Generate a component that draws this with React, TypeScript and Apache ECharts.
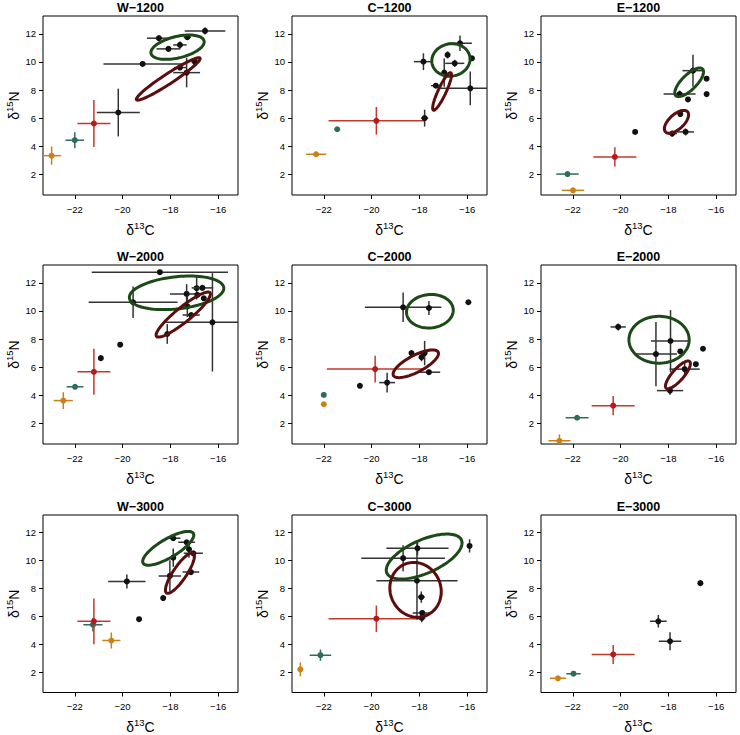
import React, { useEffect, useRef } from "react";
import * as echarts from "echarts";

// Panel titles
const TITLES = ["W\u22121200", "C\u22121200", "E\u22121200", "W\u22122000", "C\u22122000", "E\u22122000", "W\u22123000", "C\u22123000", "E\u22123000"];

// Tick labels
const X_TICKS = [-22, -20, -18, -16];
const Y_TICKS = [2, 4, 6, 8, 10, 12];
const X_MIN = -23.33, X_MAX = -15.17, Y_MIN = 0.53, Y_MAX = 13.27;

// Points: [d13C, d15N, xErr, yErr, group]  group: 0 orange, 1 teal, 2 red, 3 black
const W1200 = [
  [-22.97, 3.33, 0.39, 0.65, 0], [-22.0, 4.43, 0.39, 0.57, 1], [-21.2, 5.62, 0.69, 1.67, 2],
  [-20.18, 6.4, 0.9, 1.7, 3], [-19.16, 9.86, 1.64, 0, 3], [-18.48, 11.69, 0.5, 0.2, 3],
  [-18.08, 10.93, 0.5, 0.2, 3], [-17.6, 11.21, 0.28, 0.25, 3], [-17.29, 11.76, 0.15, 0.2, 3],
  [-16.55, 12.21, 0.85, 0.25, 3], [-17.6, 9.6, 0.25, 0.1, 3], [-17.32, 9.24, 0.56, 1.05, 3],
  [-16.97, 10.0, 0.15, 0.2, 3],
];
const C1200 = [
  [-22.32, 3.43, 0.42, 0.2, 0], [-21.44, 5.21, 0, 0, 1], [-19.8, 5.81, 2.0, 0.98, 2],
  [-17.78, 6.0, 0.15, 0.6, 3], [-17.31, 8.31, 0.2, 0.1, 3], [-16.96, 9.24, 0.1, 1.0, 3],
  [-17.83, 10.02, 0.4, 0.6, 3], [-16.82, 10.5, 0.1, 0.25, 3], [-16.52, 9.9, 0.4, 0.25, 3],
  [-16.3, 11.33, 0.5, 0.55, 3], [-15.8, 10.26, 0, 0, 3], [-15.87, 8.12, 1.3, 1.2, 3],
];
const E1200 = [
  [-21.99, 0.86, 0.47, 0.1, 0], [-22.22, 2.02, 0.47, 0, 1], [-20.24, 3.24, 0.9, 0.68, 2],
  [-19.39, 5.02, 0, 0, 3], [-17.84, 4.9, 0.2, 0.2, 3], [-17.28, 5.02, 0.35, 0.25, 3],
  [-17.5, 6.29, 0.1, 0.15, 3], [-17.53, 7.71, 0.67, 0.25, 3], [-17.18, 7.33, 0, 0, 3],
  [-16.97, 9.38, 0.44, 1.14, 3], [-16.4, 8.81, 0, 0, 3], [-16.4, 7.71, 0, 0, 3],
];
const W2000 = [
  [-22.48, 3.62, 0.4, 0.6, 0], [-21.99, 4.6, 0.35, 0, 1], [-21.2, 5.67, 0.69, 1.64, 2],
  [-20.91, 6.64, 0, 0, 3], [-20.1, 7.6, 0, 0, 3], [-18.13, 8.36, 0.1, 0.7, 3],
  [-19.56, 10.62, 1.86, 1.12, 3], [-18.44, 12.76, 2.85, 0, 3], [-17.32, 11.21, 0.7, 0.7, 3],
  [-17.29, 10.33, 0.1, 0.77, 3], [-17.13, 9.71, 0.36, 0.1, 3], [-16.9, 11.62, 0.1, 0.8, 3],
  [-16.66, 11.64, 0.45, 0.1, 3], [-16.87, 11.14, 0, 0, 3], [-16.6, 10.9, 0, 0, 3],
  [-16.24, 9.19, 2.06, 3.5, 3],
];
const C2000 = [
  [-22.0, 3.36, 0, 0, 0], [-22.0, 4.02, 0, 0, 1], [-19.85, 5.86, 2.02, 0.95, 2],
  [-20.49, 4.67, 0, 0, 3], [-19.35, 4.9, 0.33, 0.7, 3], [-18.33, 7.0, 0, 0, 3],
  [-17.91, 6.71, 0.1, 0.3, 3], [-17.78, 7.0, 0.1, 0.87, 3], [-17.6, 5.64, 0.47, 0.1, 3],
  [-18.68, 10.26, 1.6, 1.05, 3], [-17.6, 10.21, 0.1, 0.5, 3], [-15.95, 10.62, 0, 0, 3],
];
const E2000 = [
  [-22.56, 0.76, 0.46, 0.45, 0], [-21.82, 2.4, 0.48, 0, 1], [-20.31, 3.26, 0.9, 0.68, 2],
  [-20.1, 8.86, 0.32, 0.25, 3], [-18.52, 6.93, 0.88, 2.29, 3], [-17.91, 7.86, 0.82, 2.2, 3],
  [-17.5, 7.12, 0.1, 0.1, 3], [-17.32, 5.86, 0.63, 0.48, 3], [-16.85, 6.21, 0, 0, 3],
  [-16.55, 7.31, 0, 0, 3], [-17.93, 4.33, 0.55, 0.3, 3],
];
const W3000 = [
  [-21.24, 5.4, 0.4, 0.5, 1], [-21.2, 5.64, 0.69, 1.64, 2], [-20.47, 4.26, 0.38, 0.57, 0],
  [-19.31, 5.79, 0, 0, 3], [-19.82, 8.5, 0.78, 0.5, 3], [-18.3, 7.31, 0.1, 0.2, 3],
  [-18.02, 8.9, 0.47, 1.13, 3], [-17.88, 10.21, 0.1, 0.65, 3], [-17.88, 11.6, 0.3, 0.1, 3],
  [-17.32, 11.31, 0.35, 0.1, 3], [-17.22, 10.81, 0.1, 0.6, 3], [-17.04, 10.52, 0.4, 0.1, 3],
  [-17.14, 9.17, 0.35, 0.1, 3],
];
const C3000 = [
  [-22.98, 2.19, 0.05, 0.5, 0], [-22.14, 3.21, 0.45, 0.4, 1], [-19.8, 5.83, 2.0, 0.95, 2],
  [-17.9, 5.88, 0.15, 0.3, 3], [-17.88, 6.24, 0.4, 0.1, 3], [-17.92, 7.38, 0.15, 0.4, 3],
  [-18.1, 8.55, 1.7, 2.8, 3], [-18.68, 10.17, 1.75, 0.93, 3], [-18.08, 10.88, 1.3, 0.5, 3],
  [-15.9, 11.05, 0, 0.48, 3],
];
const E3000 = [
  [-22.62, 1.55, 0.34, 0, 0], [-21.97, 1.88, 0.3, 0, 1], [-20.31, 3.26, 0.9, 0.68, 2],
  [-18.42, 5.64, 0.35, 0.45, 3], [-17.93, 4.21, 0.47, 0.64, 3], [-16.66, 8.38, 0, 0, 3],
];

// Ellipses: [cx, cy, ux, uy, vx, vy, type] (type 0 green, 1 dark red); conjugate semi-axis vectors
const W1200_ELL = [[-17.7, 11.05, 1.11, 0.45, 0.105, -0.74, 0], [-18.09, 8.79, 1.33, 1.48, 0.115, -0.3, 1]];
const C1200_ELL = [[-16.68, 10.14, 0.795, 0.19, 0.084, -1.14, 0], [-17.05, 7.9, 0.363, 1.33, 0.152, -0.12, 1]];
const E1200_ELL = [[-17.13, 8.55, 0.56, 0.95, 0.22, -0.37, 0], [-17.66, 5.74, 0.463, 0.714, 0.206, -0.388, 1]];
const W2000_ELL = [[-17.74, 11.29, 1.975, 0.357, 0.056, -1.14, 0], [-17.46, 9.74, 1.12, 1.55, 0.195, -0.407, 1]];
const C2000_ELL = [[-17.56, 9.98, 0.978, 0.07, 0, -1.19, 0], [-18.15, 6.24, 0.936, 0.833, 0.162, -0.528, 1]];
const E2000_ELL = [[-18.39, 7.95, 1.26, 0, 0, -1.67, 0], [-17.6, 5.45, 0.49, 0.95, 0.18, -0.27, 1]];
const W3000_ELL = [[-18.09, 10.88, 1.05, 1.07, 0.2, -0.57, 0], [-17.6, 9.1, 0.56, 1.43, 0.233, -0.264, 1]];
const C3000_ELL = [[-17.8, 10.29, 1.56, 1.19, 0.285, -1.09, 0], [-18.16, 7.9, -0.42, 1.86, 0.99, 0.64, 1]];
const E3000_ELL: number[][] = [];

const POINTS = [W1200, C1200, E1200, W2000, C2000, E2000, W3000, C3000, E3000];
const ELLIPSES = [W1200_ELL, C1200_ELL, E1200_ELL, W2000_ELL, C2000_ELL, E2000_ELL, W3000_ELL, C3000_ELL, E3000_ELL];

const DOT_COLORS = ["#c98118", "#2e6b5c", "#b8191b", "#111111"];
const BAR_COLORS = ["#c98118", "#2e6b5c", "#c0392b", "#333333"];
const ELL_COLORS = ["#1b4a17", "#5c0d0d"];

const COL_LEFT = [43, 292, 541];
const ROW_TOP = [16, 265, 515];
const GW = 195, GH = 179;
const FONT = "'Liberation Sans', Arial, sans-serif";

const fmt = (v: number) => (v < 0 ? "\u2212" + Math.abs(v) : String(v));

export default function App() {
  const ref = useRef<HTMLDivElement>(null);
  useEffect(() => {
    if (!ref.current) return;
    const chart = echarts.init(ref.current, null, { renderer: "svg" });
    const grids: any[] = [], xAxes: any[] = [], yAxes: any[] = [], series: any[] = [], graphics: any[] = [];
    for (let i = 0; i < 9; i++) {
      const r = Math.floor(i / 3), c = i % 3;
      const left = COL_LEFT[c], top = ROW_TOP[r];
      grids.push({ left, top, width: GW, height: GH, show: true, borderColor: "#000", borderWidth: 1, backgroundColor: "transparent" });
      xAxes.push({
        gridIndex: i, type: "value", min: X_MIN, max: X_MAX,
        axisLine: { show: false }, splitLine: { show: false },
        axisTick: { show: true, length: 4, customValues: X_TICKS, lineStyle: { color: "#000" } },
        axisLabel: { customValues: X_TICKS, formatter: fmt, color: "#000", fontSize: 9.5, fontFamily: FONT, margin: 9 },
        name: "{d|\u03b4}{s|13}{d|C}", nameLocation: "middle", nameGap: 25,
        nameTextStyle: { color: "#000", fontFamily: FONT, rich: { d: { fontSize: 14, fontFamily: FONT, color: "#000" }, s: { fontSize: 9.5, fontFamily: FONT, color: "#000", padding: [0, 0, 9, 0] } } },
      });
      yAxes.push({
        gridIndex: i, type: "value", min: Y_MIN, max: Y_MAX,
        axisLine: { show: false }, splitLine: { show: false },
        axisTick: { show: true, length: 4, customValues: Y_TICKS, lineStyle: { color: "#000" } },
        axisLabel: { customValues: Y_TICKS, formatter: fmt, color: "#000", fontSize: 9.5, fontFamily: FONT, margin: 7 },
        name: "{d|\u03b4}{s|15}{d|N}", nameLocation: "middle", nameGap: 20,
        nameTextStyle: { color: "#000", fontFamily: FONT, rich: { d: { fontSize: 14, fontFamily: FONT, color: "#000" }, s: { fontSize: 9.5, fontFamily: FONT, color: "#000", padding: [0, 0, 9, 0] } } },
      });
      series.push({
        type: "custom", xAxisIndex: i, yAxisIndex: i, clip: true,
        data: POINTS[i],
        renderItem: (params: any, api: any) => {
          const x = api.value(0), y = api.value(1), ex = api.value(2), ey = api.value(3), g = api.value(4);
          const p = api.coord([x, y]);
          const children: any[] = [];
          const bc = BAR_COLORS[g];
          if (ex > 0) {
            const a = api.coord([x - ex, y]), b = api.coord([x + ex, y]);
            children.push({ type: "line", shape: { x1: a[0], y1: a[1], x2: b[0], y2: b[1] }, style: { stroke: bc, lineWidth: 1.5 } });
          }
          if (ey > 0) {
            const a = api.coord([x, y - ey]), b = api.coord([x, y + ey]);
            children.push({ type: "line", shape: { x1: a[0], y1: a[1], x2: b[0], y2: b[1] }, style: { stroke: bc, lineWidth: 1.5 } });
          }
          children.push({ type: "circle", shape: { cx: p[0], cy: p[1], r: 3 }, style: { fill: DOT_COLORS[g] } });
          const cs = params.coordSys;
          return { type: "group", children, clipPath: { type: "rect", shape: { x: cs.x, y: cs.y, width: cs.width, height: cs.height } } };
        },
      });
      if (ELLIPSES[i].length) {
        series.push({
          type: "custom", xAxisIndex: i, yAxisIndex: i, clip: true,
          data: ELLIPSES[i],
          renderItem: (params: any, api: any) => {
            const cx = api.value(0), cy = api.value(1), ux = api.value(2), uy = api.value(3), vx = api.value(4), vy = api.value(5), t = api.value(6);
            const pts: number[][] = [];
            const N = 90;
            for (let k = 0; k < N; k++) {
              const a = (k / N) * Math.PI * 2;
              pts.push(api.coord([cx + Math.cos(a) * ux + Math.sin(a) * vx, cy + Math.cos(a) * uy + Math.sin(a) * vy]));
            }
            return { type: "polygon", shape: { points: pts }, style: { fill: "none", stroke: ELL_COLORS[t], lineWidth: 3 } };
          },
        });
      }
      graphics.push({
        type: "text", x: left + GW / 2, y: top - 8.5,
        style: { text: TITLES[i], font: `bold 12.5px ${FONT}`, fill: "#000", align: "center", verticalAlign: "middle" },
      });
    }
    chart.setOption({
      animation: false,
      backgroundColor: "#fff",
      grid: grids, xAxis: xAxes, yAxis: yAxes, series, graphic: graphics,
    });
    return () => chart.dispose();
  }, []);
  return <div ref={ref} style={{ position: "absolute", left: 0, top: 0, width: 740, height: 735 }} />;
}
